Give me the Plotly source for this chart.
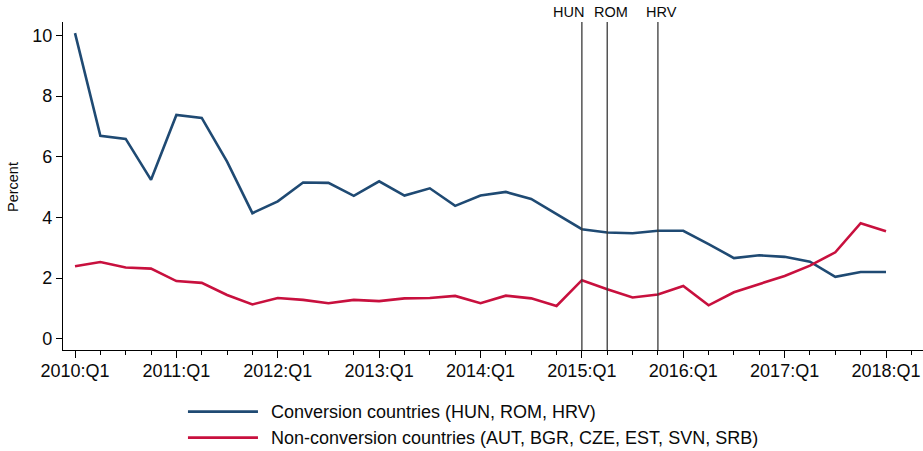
import plotly.graph_objects as go

quarters = [f"{y}:Q{q}" for y in range(2010, 2019) for q in range(1, 5)][:33]
conversion = [10.08, 6.69, 6.59, 5.24, 7.38, 7.28, 5.84, 4.14, 4.53, 5.15, 5.14,
              4.71, 5.19, 4.72, 4.96, 4.38, 4.72, 4.84, 4.61, 4.10, 3.61, 3.50,
              3.48, 3.56, 3.56, 3.12, 2.66, 2.75, 2.70, 2.54, 2.04, 2.20, 2.20]
non_conversion = [2.39, 2.53, 2.35, 2.31, 1.90, 1.84, 1.44, 1.13, 1.34, 1.28, 1.17,
                  1.28, 1.24, 1.33, 1.34, 1.41, 1.17, 1.42, 1.33, 1.08, 1.93, 1.63,
                  1.36, 1.46, 1.74, 1.10, 1.53, 1.81, 2.07, 2.41, 2.85, 3.81, 3.54]
event_labels = ["HUN", "ROM", "HRV"]
event_quarters = ["2015:Q1", "2015:Q2", "2015:Q4"]
event_shifts = [-13, 4, 4]
series_names = ["Conversion countries (HUN, ROM, HRV)",
                "Non-conversion countries (AUT, BGR, CZE, EST, SVN, SRB)"]
colors = ["#1f4a73", "#c8103e"]
year_ticks = [q for q in quarters if q.endswith("Q1")]

FONT = "Liberation Sans, Arial, sans-serif"
TXT = "#0a0a0a"
xidx = list(range(len(quarters)))

fig = go.Figure()
for vals, name, col in zip([conversion, non_conversion], series_names, colors):
    fig.add_trace(go.Scatter(x=xidx, y=vals, mode="lines", name=name,
                             line=dict(color=col, width=2.6), showlegend=False))

shapes = []
annotations = []
for lab, q, sh in zip(event_labels, event_quarters, event_shifts):
    xi = quarters.index(q)
    shapes.append(dict(type="line", xref="x", yref="paper", x0=xi, x1=xi, y0=0, y1=1,
                       line=dict(color="#3a3a3a", width=1.3)))
    annotations.append(dict(x=xi, y=1.0305, xref="x", yref="paper", text=lab,
                            showarrow=False, xshift=sh, yanchor="middle",
                            font=dict(family=FONT, size=14.5, color=TXT)))

# custom legend below the plot
leg_y = [-0.188, -0.2674]
for yy, name, col in zip(leg_y, series_names, colors):
    shapes.append(dict(type="line", xref="paper", yref="paper", x0=0.1453, x1=0.2267,
                       y0=yy, y1=yy, line=dict(color=col, width=2.8)))
    annotations.append(dict(x=0.2395, y=yy, xref="paper", yref="paper", text=name,
                            showarrow=False, xanchor="left", yanchor="middle",
                            font=dict(family=FONT, size=18, color=TXT)))

annotations.append(dict(x=-0.0581, y=0.497, xref="paper", yref="paper", text="Percent",
                        showarrow=False, textangle=-90, xanchor="center", yanchor="middle",
                        font=dict(family=FONT, size=14.5, color=TXT)))

fig.update_layout(
    width=923, height=451,
    margin=dict(l=63, r=0, t=22, b=101),
    paper_bgcolor="white", plot_bgcolor="white",
    font=dict(family=FONT, size=18, color=TXT),
    shapes=shapes, annotations=annotations,
    showlegend=False,
)
fig.update_xaxes(
    range=[-0.474, 33.46], showgrid=False, zeroline=False,
    showline=True, linecolor="black", linewidth=1.3,
    tickmode="array", tickvals=[quarters.index(q) for q in year_ticks], ticktext=year_ticks,
    ticks="outside", ticklen=7, tickwidth=1.3, tickcolor="black",
    ticklabelstandoff=-3,
    minor=dict(ticks="outside", ticklen=4, tickwidth=1.2, tickcolor="black", dtick=1, tick0=0, showgrid=False),
    tickfont=dict(family=FONT, size=18, color=TXT),
)
fig.update_yaxes(
    range=[-0.373, 10.445], showgrid=False, zeroline=False,
    showline=True, linecolor="black", linewidth=1.3,
    tickvals=[0, 2, 4, 6, 8, 10], ticks="outside", ticklen=6, tickwidth=1.3, tickcolor="black",
    tickfont=dict(family=FONT, size=18, color=TXT),
)

fig.write_html("out.html", config={"displayModeBar": False},
               post_script="document.body.style.margin='0';document.body.style.overflow='hidden';")
